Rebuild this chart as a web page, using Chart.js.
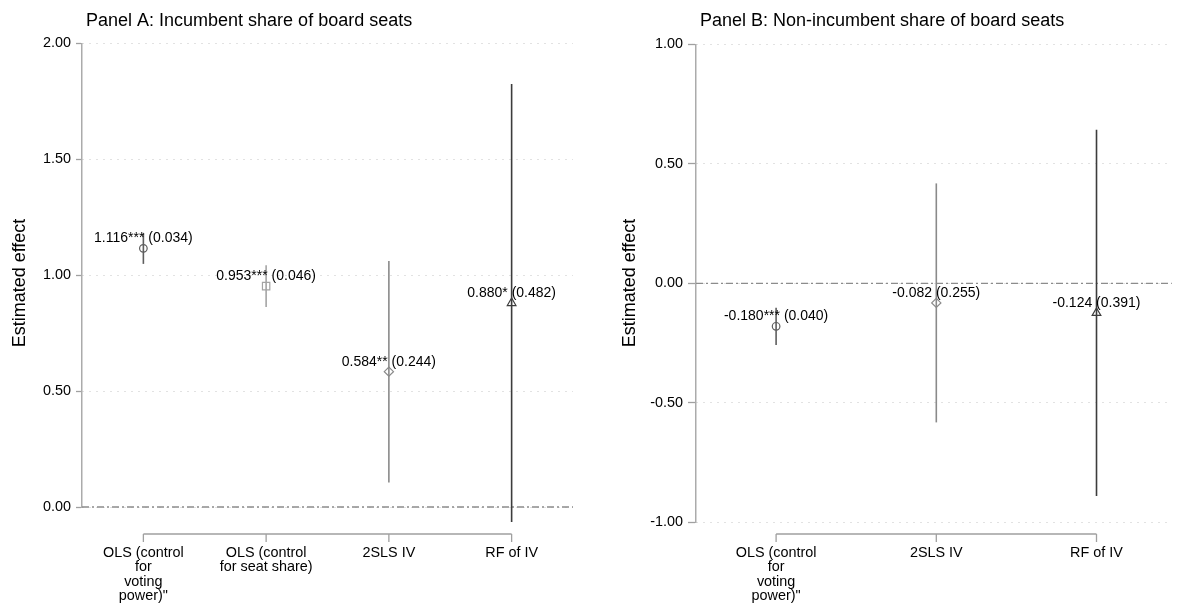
<!DOCTYPE html>
<html>
<head>
<meta charset="utf-8">
<script src="https://cdn.jsdelivr.net/npm/chart.js@4.4.1/dist/chart.umd.min.js"></script>
<style>
  html, body { margin: 0; padding: 0; background: #fff; }
  #wrap { position: relative; width: 1178px; height: 608px; }
  canvas { position: absolute; top: 0; }
  #panelA { left: 0; }
  #panelB { left: 589px; }
</style>
</head>
<body>
<div id="wrap">
  <canvas id="panelA" width="589" height="608"></canvas>
  <canvas id="panelB" width="589" height="608"></canvas>
</div>
<script>
// Panel A: incumbent share of board seats
const catsA = [['OLS (control', 'for', 'voting', 'power)"'], ['OLS (control', 'for seat share)'], ['2SLS IV'], ['RF of IV']];
const coefA = [1.116, 0.953, 0.584, 0.880];
const seA = [0.034, 0.046, 0.244, 0.482];
const starsA = ['***', '***', '**', '*'];
const loA = [1.049, 0.863, 0.106, -0.065];
const hiA = [1.183, 1.043, 1.062, 1.825];
const colorsA = ['#5e5e5e', '#a4a4a4', '#8a8a8a', '#3c3c3c'];
const shapesA = ['circle', 'rect', 'rectRot', 'triangle'];
const sizesA = [3.8, 5.2, 4.6, 5];

// Panel B: non-incumbent share of board seats
const catsB = [['OLS (control', 'for', 'voting', 'power)"'], ['2SLS IV'], ['RF of IV']];
const coefB = [-0.180, -0.082, -0.124];
const seB = [0.040, 0.255, 0.391];
const starsB = ['***', '', ''];
const loB = [-0.258, -0.582, -0.890];
const hiB = [-0.102, 0.418, 0.642];
const colorsB = ['#5e5e5e', '#8a8a8a', '#3c3c3c'];
const shapesB = ['circle', 'rectRot', 'triangle'];
const sizesB = [3.8, 4.6, 5];

const FONT = '"Liberation Sans", Arial, Helvetica, sans-serif';

function decorPlugin(p) {
  return {
    id: 'decor',
    afterDatasetsDraw(chart) {
      const ctx = chart.ctx;
      const xs = chart.scales.x;
      const area = chart.chartArea;
      ctx.save();
      ctx.fillStyle = '#000';

      // panel title
      ctx.font = '18px ' + FONT;
      ctx.textAlign = 'left';
      ctx.textBaseline = 'alphabetic';
      ctx.fillText(p.title, area.left + 4, 26);

      // y axis title
      ctx.save();
      ctx.translate(p.yTitleX, 283);
      ctx.rotate(-Math.PI / 2);
      ctx.textAlign = 'center';
      ctx.fillText('Estimated effect', 0, 0);
      ctx.restore();

      // coefficient labels above markers
      ctx.font = '14px ' + FONT;
      ctx.textAlign = 'center';
      const meta = chart.getDatasetMeta(chart.data.datasets.length - 1);
      meta.data.forEach((pt, i) => {
        const txt = p.coef[i].toFixed(3) + p.stars[i] + ' (' + p.se[i].toFixed(3) + ')';
        ctx.fillText(txt, pt.x, pt.y - 6);
      });

      // stata-style x axis below the plot region
      const axisY = 534;
      const x0 = xs.getPixelForValue(1);
      const x1 = xs.getPixelForValue(p.cats.length);
      ctx.strokeStyle = '#a0a0a0';
      ctx.lineWidth = 1.3;
      ctx.beginPath();
      ctx.moveTo(x0, axisY);
      ctx.lineTo(x1, axisY);
      p.cats.forEach((c, i) => {
        const px = xs.getPixelForValue(i + 1);
        ctx.moveTo(px, axisY);
        ctx.lineTo(px, axisY + 8);
      });
      ctx.stroke();

      ctx.font = '14.4px ' + FONT;
      p.cats.forEach((lines, i) => {
        const px = xs.getPixelForValue(i + 1);
        lines.forEach((ln, k) => ctx.fillText(ln, px, 557 + k * 14.4));
      });
      ctx.restore();
    }
  };
}

function makePanel(id, p) {
  const datasets = [];
  // zero reference line
  datasets.push({
    data: [{ x: p.xmin, y: 0 }, { x: p.xmax, y: 0 }],
    borderColor: '#8c8c8c',
    borderWidth: 1.3,
    borderDash: [7, 3, 2, 3],
    pointRadius: 0,
    clip: false,
    order: 3
  });
  // confidence intervals
  p.cats.forEach((c, i) => {
    datasets.push({
      data: [{ x: i + 1, y: p.lo[i] }, { x: i + 1, y: p.hi[i] }],
      borderColor: p.colors[i],
      borderWidth: 1.6,
      pointRadius: 0,
      clip: false,
      order: 2
    });
  });
  // point estimates
  datasets.push({
    data: p.coef.map((v, i) => ({ x: i + 1, y: v })),
    showLine: false,
    pointStyle: p.shapes,
    pointRadius: p.sizes,
    pointBorderColor: p.colors,
    pointBackgroundColor: 'rgba(0,0,0,0)',
    pointBorderWidth: 1.2,
    clip: false,
    order: 1
  });

  new Chart(document.getElementById(id), {
    type: 'line',
    data: { datasets },
    options: {
      responsive: false,
      animation: false,
      events: [],
      layout: { padding: { left: 0, right: p.padRight, top: p.top, bottom: p.padBottom } },
      plugins: { legend: { display: false }, tooltip: { enabled: false } },
      scales: {
        x: { type: 'linear', display: false, min: p.xmin, max: p.xmax },
        y: {
          min: p.ymin,
          max: p.ymax,
          afterFit: s => { s.width = p.axisW; },
          ticks: {
            stepSize: 0.5,
            padding: 5,
            color: '#000',
            font: { family: FONT, size: 14.4 },
            callback: v => v.toFixed(2)
          },
          grid: {
            color: '#c4c4c4',
            lineWidth: 1,
            tickLength: p.tickLen,
            tickColor: '#a0a0a0',
            tickWidth: 1.3
          },
          border: { color: '#ababab', width: 1.5, dash: [1, 6] }
        }
      }
    },
    plugins: [decorPlugin(p)]
  });
}

makePanel('panelA', {
  title: 'Panel A: Incumbent share of board seats',
  cats: catsA, coef: coefA, se: seA, stars: starsA, lo: loA, hi: hiA,
  colors: colorsA, shapes: shapesA, sizes: sizesA,
  xmin: 0.5, xmax: 4.5, ymin: 0, ymax: 2,
  axisW: 82, padRight: 16, top: 43.5, padBottom: 101, tickLen: 6, yTitleX: 25
});

makePanel('panelB', {
  title: 'Panel B: Non-incumbent share of board seats',
  cats: catsB, coef: coefB, se: seB, stars: starsB, lo: loB, hi: hiB,
  colors: colorsB, shapes: shapesB, sizes: sizesB,
  xmin: 0.5, xmax: 3.47, ymin: -1, ymax: 1,
  axisW: 107, padRight: 2, top: 44.3, padBottom: 85.7, tickLen: 8, yTitleX: 46
});
</script>
</body>
</html>
